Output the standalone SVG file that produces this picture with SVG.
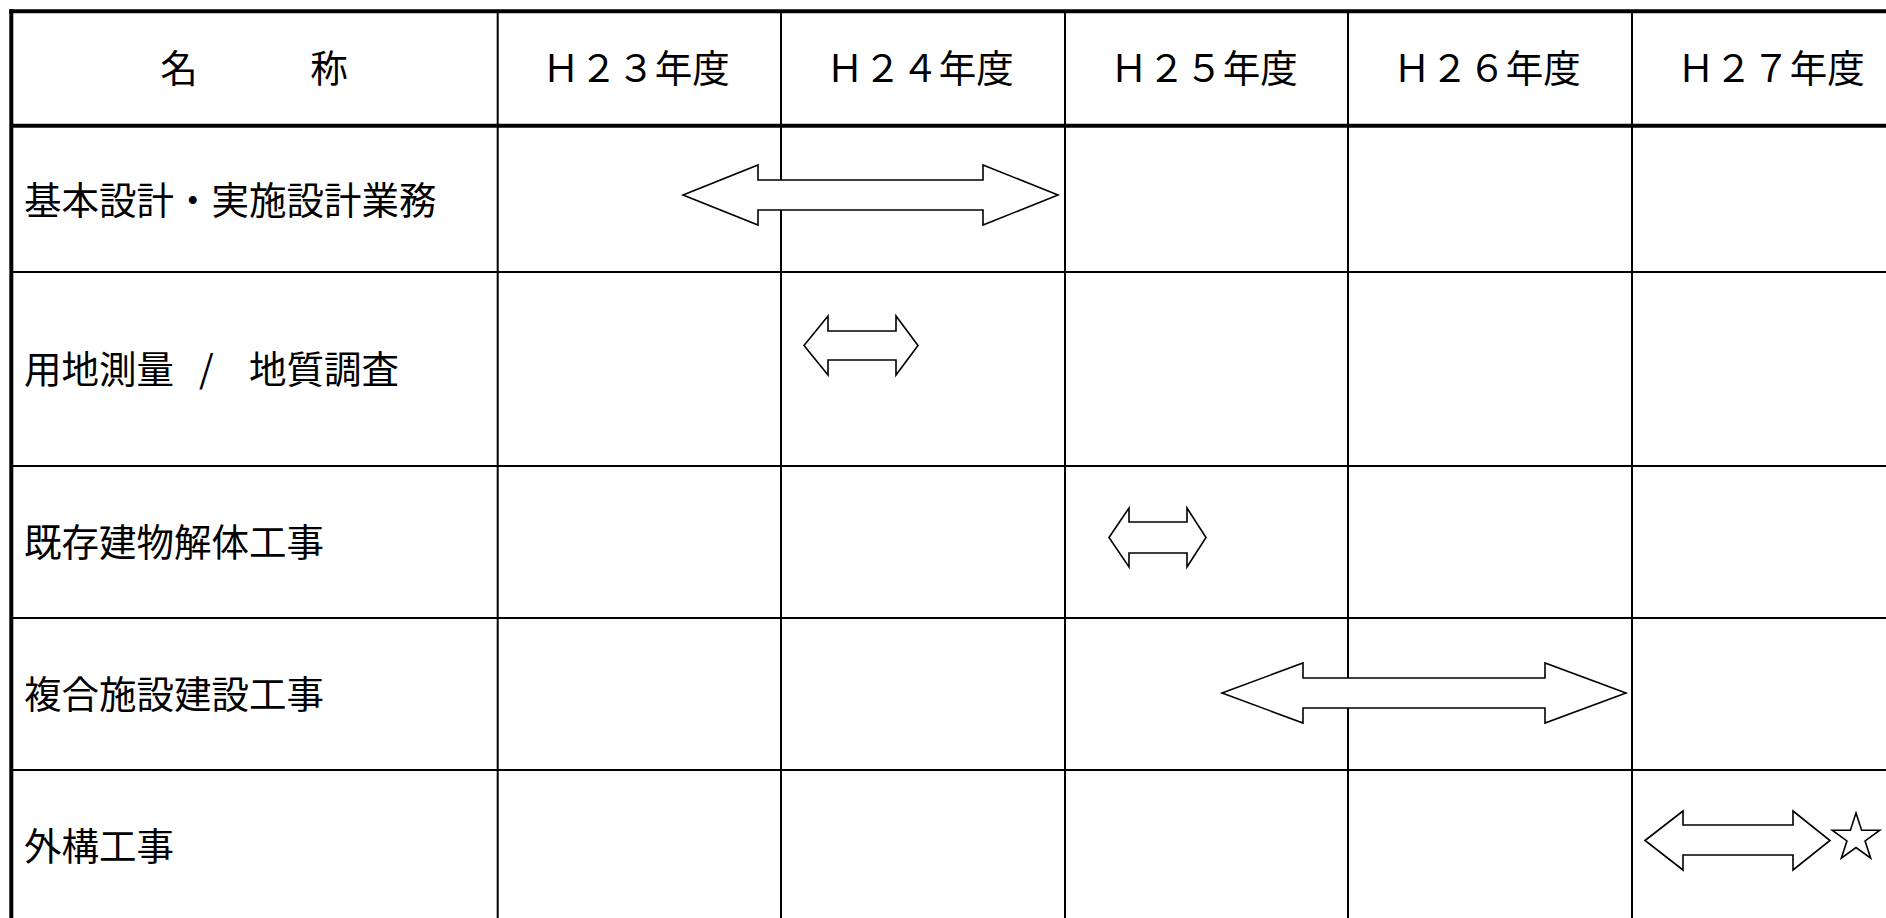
<svg xmlns="http://www.w3.org/2000/svg" width="1886" height="918" viewBox="0 0 1886 918">
<style>
  .t { font-family: "Noto Sans CJK JP", "Noto Sans", sans-serif; font-size: 37.5px; fill: #000; dominant-baseline: central; }
  .h { text-anchor: middle; }
  .thin { stroke: #000; stroke-width: 2; fill: none; }
  .thick { stroke: #000; stroke-width: 4; fill: none; }
  .bar { fill: #fff; stroke: #000; stroke-width: 1.6; stroke-linejoin: miter; }
</style>
<rect x="0" y="0" width="1886" height="918" fill="#fff"/>
<g id="grid">
  <line class="thin" x1="11" y1="272" x2="1886" y2="272"/>
  <line class="thin" x1="11" y1="466" x2="1886" y2="466"/>
  <line class="thin" x1="11" y1="618" x2="1886" y2="618"/>
  <line class="thin" x1="11" y1="770" x2="1886" y2="770"/>
  <line class="thin" x1="497.7" y1="11" x2="497.7" y2="918"/>
  <line class="thin" x1="781" y1="11" x2="781" y2="918"/>
  <line class="thin" x1="1065" y1="11" x2="1065" y2="918"/>
  <line class="thin" x1="1348" y1="11" x2="1348" y2="918"/>
  <line class="thin" x1="1632" y1="11" x2="1632" y2="918"/>
  <line class="thick" x1="9.3" y1="11.3" x2="1886" y2="11.3"/>
  <line class="thick" x1="11.3" y1="9.3" x2="11.3" y2="918"/>
  <line class="thick" x1="11" y1="125.7" x2="1886" y2="125.7"/>
</g>
<g id="header">
  <text class="t h" x="254" y="65.5" xml:space="preserve">名　　　称</text>
  <text class="t h" x="636" y="65.5">Ｈ２３年度</text>
  <text class="t h" x="920" y="65.5">Ｈ２４年度</text>
  <text class="t h" x="1204" y="65.5">Ｈ２５年度</text>
  <text class="t h" x="1487" y="65.5">Ｈ２６年度</text>
  <text class="t h" x="1771" y="65.5">Ｈ２７年度</text>
</g>
<g id="row1"><text class="t" x="24" y="197.5">基本設計・実施設計業務</text></g>
<g id="row2"><text class="t" x="24" y="366">用地測量 <tspan x="199">/</tspan> <tspan x="249">地質調査</tspan></text></g>
<g id="row3"><text class="t" x="24" y="539.5">既存建物解体工事</text></g>
<g id="row4"><text class="t" x="24" y="691">複合施設建設工事</text></g>
<g id="row5"><text class="t" x="24" y="843">外構工事</text></g>
<g id="bars">
  <polygon id="bar1" class="bar" points="683,195 758,165 758,180 983,180 983,165 1058,195 983,225 983,210 758,210 758,225"/>
  <polygon id="bar2" class="bar" points="804,345.5 828,316 828,331 896,331 896,316 918,345.5 896,375 896,360 828,360 828,375"/>
  <polygon id="bar3" class="bar" points="1109,537.5 1129,508 1129,522 1187,522 1187,508 1206,537.5 1187,567 1187,553 1129,553 1129,567"/>
  <polygon id="bar4" class="bar" points="1222,693 1303,663 1303,678 1545,678 1545,663 1626,693 1545,723 1545,708 1303,708 1303,723"/>
  <polygon id="bar5" class="bar" points="1645,840.5 1683,811 1683,825 1793,825 1793,811 1830,840.5 1793,870 1793,855 1683,855 1683,870"/>
  <polygon id="star" class="bar" points="1856,813 1861.61,830.27 1879.78,830.27 1865.08,840.95 1870.69,858.23 1856,847.55 1841.31,858.23 1846.92,840.95 1832.22,830.27 1850.39,830.27"/>
</g>
</svg>
